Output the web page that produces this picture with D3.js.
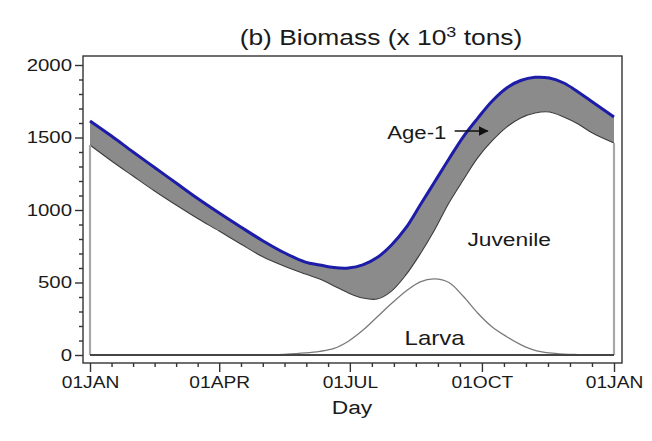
<!DOCTYPE html>
<html>
<head>
<meta charset="utf-8">
<script src="https://cdn.jsdelivr.net/npm/d3@7"></script>
<style>
  body { margin: 0; background: #fff; }
  text { font-family: "Liberation Sans", Arial, sans-serif; fill: #1a1a1a; }
</style>
</head>
<body>
<svg width="652" height="441"></svg>
<script>
// day of year for each sample
const days = [0, 15, 30, 45, 60, 75, 90, 105, 120, 135, 150, 160, 170, 180, 190, 200,
    210, 220, 230, 240, 250, 260, 270, 280, 290, 300, 310, 320, 330, 340, 350, 365];
// biomass, x 10^3 tons
const larva = [0, 0, 0, 0, 0, 0, 0, 0, 0, 5, 14, 25, 45, 95, 170, 262,
    355, 440, 505, 525, 500, 405, 290, 195, 128, 72, 32, 14, 6, 3, 1, 0];
const juvenile = [1448, 1338, 1234, 1131, 1034, 941, 855, 766, 679, 609, 545, 499, 431, 333, 223, 124,
    86, 112, 192, 337, 548, 802, 1069, 1281, 1442, 1563, 1637, 1662, 1635, 1590, 1530, 1462];
const age1 = [166, 172, 166, 162, 152, 138, 124, 117, 111, 93, 82, 97, 127, 172, 228, 286,
    318, 324, 337, 331, 304, 298, 273, 274, 270, 258, 246, 234, 235, 221, 214, 179];

const yTicks = [0, 500, 1000, 1500, 2000];
const monthTicks = ["01JAN", "01APR", "01JUL", "01OCT", "01JAN"];
const year0 = new Date(2001, 0, 1);
const tickDates = [new Date(2001, 0, 1), new Date(2001, 3, 1), new Date(2001, 6, 1),
    new Date(2001, 9, 1), new Date(2002, 0, 1)];

const SX = 1.2;  // the picture is stretched sideways
const toDate = d => d3.timeDay.offset(year0, d);

const svg = d3.select("svg");
const x = d3.scaleTime().domain([tickDates[0], tickDates[4]]).range([90, 614]);
const y = d3.scaleLinear().domain([0, 2000]).range([355, 65]);

const rows = days.map((d, i) => ({ date: toDate(d), larva: larva[i], juvenile: juvenile[i], age1: age1[i] }));
const stacked = d3.stack().keys(["larva", "juvenile", "age1"])(rows);

const curve = d3.curveCatmullRom.alpha(0.5);
const area = d3.area().curve(curve)
    .x(d => x(d.data.date)).y0(d => y(d[0])).y1(d => y(d[1]));
const topLine = d3.line().curve(curve)
    .x(d => x(d.data.date)).y(d => y(d[1]));

const plot = svg.append("g");

// age-1 band
plot.append("path").attr("d", area(stacked[2]))
    .attr("fill", "#8b8b8b");
// juvenile (white) and its upper edge
plot.append("path").attr("d", area(stacked[1]))
    .attr("fill", "#fff");
plot.append("path").attr("d", topLine(stacked[1]))
    .attr("fill", "none").attr("stroke", "#3a3a3a").attr("stroke-width", 1.1);
// larva
plot.append("path").attr("d", topLine(stacked[0]))
    .attr("fill", "none").attr("stroke", "#7a7a7a").attr("stroke-width", 1.3);

// side edges of the stack
const first = stacked[1][0], last = stacked[1][rows.length - 1];
[first, last].forEach(p => {
    plot.append("line")
        .attr("x1", x(p.data.date)).attr("x2", x(p.data.date))
        .attr("y1", y(0)).attr("y2", y(p[1]))
        .attr("stroke", "#a8a8a8").attr("stroke-width", 2.2);
});
// zero line
plot.append("line")
    .attr("x1", x(first.data.date)).attr("x2", x(last.data.date))
    .attr("y1", y(0)).attr("y2", y(0))
    .attr("stroke", "#444").attr("stroke-width", 2);
// total (blue)
plot.append("path").attr("d", topLine(stacked[2]))
    .attr("fill", "none").attr("stroke", "#1c1ca8").attr("stroke-width", 3)
    .attr("stroke-linejoin", "round");

// frame
svg.append("rect")
    .attr("x", 83).attr("y", 56).attr("width", 539).attr("height", 307)
    .attr("fill", "none").attr("stroke", "#333").attr("stroke-width", 1.4);

// y axis
const yMinor = d3.range(0, 2001, 100).filter(v => v % 500 !== 0);
svg.append("g").attr("transform", "translate(83,0)")
    .call(d3.axisLeft(y).tickValues(yMinor).tickSize(4).tickFormat(""))
    .call(g => g.select(".domain").remove());
const yAxis = svg.append("g").attr("transform", "translate(83,0)")
    .call(d3.axisLeft(y).tickValues(yTicks).tickSize(8).tickPadding(3).tickFormat(d3.format("d")))
    .call(g => g.select(".domain").remove());

// x axis
const xMinor = [];
for (let i = 0; i < 4; i++) {
    const t0 = +tickDates[i], t1 = +tickDates[i + 1];
    for (let k = 1; k < 6; k++) xMinor.push(new Date(t0 + (t1 - t0) * k / 6));
}
svg.append("g").attr("transform", "translate(0,363)")
    .call(d3.axisBottom(x).tickValues(xMinor).tickSize(4).tickFormat(""))
    .call(g => g.select(".domain").remove());
const xAxis = svg.append("g").attr("transform", "translate(0,363)")
    .call(d3.axisBottom(x).tickValues(tickDates).tickSize(9).tickPadding(5)
        .tickFormat((d, i) => monthTicks[i]))
    .call(g => g.select(".domain").remove());

svg.selectAll(".tick line").attr("stroke", "#333").attr("stroke-width", 1.4);

// widen the tick labels like the source
yAxis.selectAll("text")
    .attr("font-size", 17).attr("font-family", null)
    .each(function () {
        const t = d3.select(this);
        const tx = +t.attr("x");
        t.attr("x", 0).attr("transform", `translate(${tx},0) scale(${SX},1)`);
    });
xAxis.selectAll("text")
    .attr("font-size", 16).attr("font-family", null)
    .each(function () {
        const t = d3.select(this);
        const ty = +t.attr("y");
        t.attr("y", 0).attr("transform", `translate(0,${ty}) scale(${SX},1)`);
    });

function label(px, py, size, anchor) {
    return svg.append("text")
        .attr("transform", `translate(${px},${py}) scale(${SX},1)`)
        .attr("font-size", size)
        .attr("text-anchor", anchor);
}

// title
const title = label(381, 45, 22, "middle");
title.append("tspan").text("(b) Biomass (x 10");
title.append("tspan").text("3").attr("font-size", 15).attr("dy", -8);
title.append("tspan").text(" tons)").attr("dy", 8);

label(352, 414, 19, "middle").text("Day");

// annotations
label(x(toDate(207)), y(1490), 18.5, "start").text("Age-1");
svg.append("defs").append("marker")
    .attr("id", "head").attr("viewBox", "0 0 10 10")
    .attr("refX", 9).attr("refY", 5)
    .attr("markerWidth", 10).attr("markerHeight", 10)
    .attr("markerUnits", "userSpaceOnUse")
    .attr("orient", "auto")
    .append("path").attr("d", "M0,0 L10,5 L0,10 z").attr("fill", "#111");
svg.append("line")
    .attr("x1", x(toDate(254))).attr("x2", x(toDate(277)))
    .attr("y1", y(1545)).attr("y2", y(1545))
    .attr("stroke", "#111").attr("stroke-width", 1.6)
    .attr("marker-end", "url(#head)");

label(x(toDate(292)), y(750), 19, "middle").text("Juvenile");
label(x(toDate(240)), y(68), 20, "middle").text("Larva");
</script>
</body>
</html>
